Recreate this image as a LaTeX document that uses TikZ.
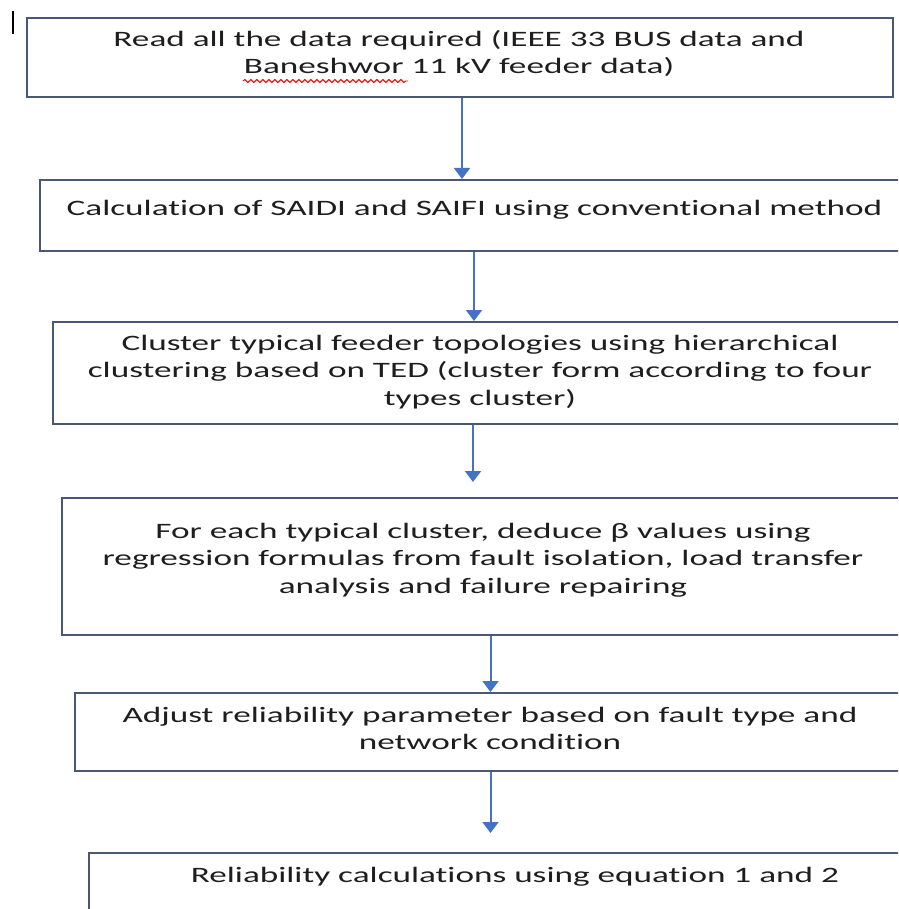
\documentclass[tikz,border=0pt]{standalone}
\usepackage{fontspec}
\setmainfont{Carlito}[FakeStretch=1.6, Ligatures={NoCommon,NoRequired,NoContextual}]
\usetikzlibrary{arrows.meta,decorations.pathmorphing}
\definecolor{boxline}{HTML}{4A5875}
\definecolor{flowblue}{HTML}{4472C4}
\definecolor{txtgray}{HTML}{1E1E1E}
\tikzset{
  stepbox/.style={draw=boxline, line width=2pt, fill=white, inner sep=0pt},
  steptext/.style={anchor=north, inner sep=0pt, align=center, text=txtgray,
    font=\fontsize{22pt}{27.5pt}\selectfont},
  flow/.style={draw=flowblue, line width=2pt,
    -{Triangle[width=16pt,length=11pt]}},
}
\begin{document}
\begin{tikzpicture}[x=1pt, y=-1pt]
  \clip (0,0) rectangle (898,909);
  \fill[white] (0,0) rectangle (898,909);

  % cursor mark
  \draw[line width=1.6pt] (13,11) -- (13,34);

  % boxes
  \node[stepbox, minimum width=866pt, minimum height=79pt]  (s1) at (460,57.5) {};
  \node[stepbox, minimum width=872pt, minimum height=71pt]  (s2) at (476,215.5) {};
  \node[stepbox, minimum width=857pt, minimum height=102pt] (s3) at (481.5,373) {};
  \node[stepbox, minimum width=848pt, minimum height=137pt] (s4) at (486,566.5) {};
  \node[stepbox, minimum width=835pt, minimum height=78pt]  (s5) at (492.5,732) {};
  \node[stepbox, minimum width=851pt, minimum height=107pt] (s6) at (514.5,906.5) {};

  % texts
  \node[steptext] (t1) at (459,30) {Read all the data required (IEEE 33 BUS data and\\Baneshwor 11 kV feeder data)};
  \node[steptext] (t2) at (474.5,200) {Calculation of SAIDI and SAIFI using conventional method};
  \node[steptext] (t3) at (480,335) {Cluster typical feeder topologies using hierarchical\\clustering based on TED (cluster form according to four\\types cluster)};
  \node[steptext] (t4) at (483,523) {For each typical cluster, deduce β values using\\regression formulas from fault isolation, load transfer\\analysis and failure repairing};
  \node[steptext] (t5) at (490,707) {Adjust reliability parameter based on fault type and\\network condition};
  \node[steptext] (t6) at (515,867) {Reliability calculations using equation 1 and 2};

  % spelling mark
  \draw[red, line width=0.9pt, decorate,
    decoration={snake, segment length=6pt, amplitude=1.5pt}] (243,81) -- (408,81);

  % connectors
  \draw[flow] (462,0 |- s1.south) -- (462,0 |- s2.north);
  \draw[flow] (474,0 |- s2.south) -- (474,0 |- s3.north);
  \draw[flow, shorten >=15pt] (473,0 |- s3.south) -- (473,0 |- s4.north);
  \draw[flow] (490.5,0 |- s4.south) -- (490.5,0 |- s5.north);
  \draw[flow, shorten >=19pt] (490.5,0 |- s5.south) -- (490.5,0 |- s6.north);
\end{tikzpicture}
\end{document}
